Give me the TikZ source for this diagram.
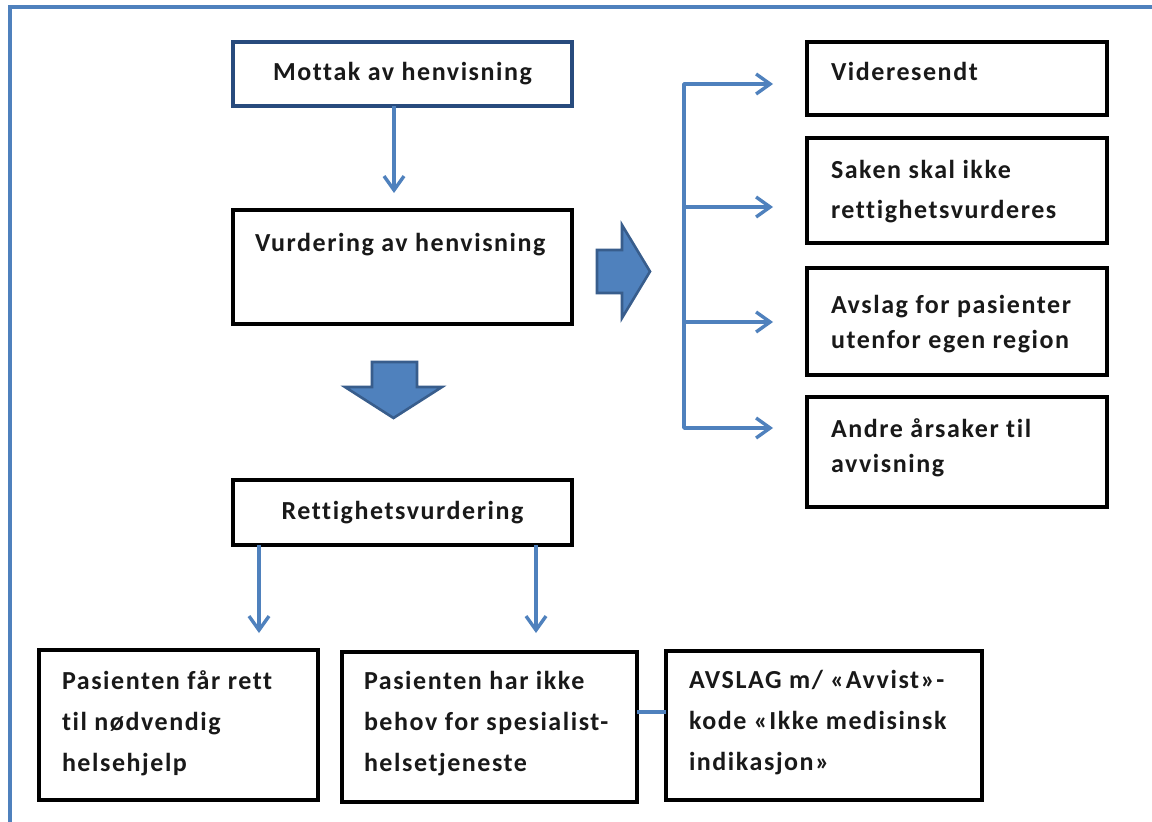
\documentclass[tikz,border=0pt]{standalone}
\usepackage{fontspec}
\setmainfont{Carlito}[LetterSpace=6,Ligatures=NoCommon]
\usetikzlibrary{arrows.meta,calc}
\definecolor{frameblue}{RGB}{79,129,189}
\definecolor{mottakblue}{RGB}{40,75,125}
\definecolor{blockfill}{RGB}{79,129,189}
\definecolor{blockedge}{RGB}{56,93,140}
\definecolor{txtcol}{RGB}{25,25,25}
\begin{document}
\begin{tikzpicture}[x=1pt,y=-1pt,
  box/.style={draw=black, line width=3.4pt, inner sep=0pt, outer sep=0pt, anchor=north west, rectangle},
  txt/.style={inner sep=0pt, outer sep=0pt, anchor=north west, align=left, text=txtcol},
  conn/.style={draw=frameblue, line width=3.4pt, line join=round},
  arr/.style={conn, -{Straight Barb[length=14pt,width=20pt,line width=3.4pt]}},
  blockarrow/.style={fill=blockfill, draw=blockedge, line width=2.6pt, line join=miter}
]
\useasboundingbox (0,0) rectangle (1152,822);
\fill[white] (0,0) rectangle (1152,822);
% frame
\draw[frameblue, line width=3.8pt] (10,830) -- (10,7) -- (1160,7);

% left column
\node[box, draw=mottakblue, minimum width=339pt, minimum height=64pt, font=\bfseries\fontsize{26}{37}\selectfont, text=txtcol] (mottak) at (233,42) {Mottak av henvisning};
\node[box, minimum width=339pt, minimum height=114pt] (vurd) at (233,210) {};
\node[txt, font=\bfseries\fontsize{26}{37}\selectfont] (vurdt) at (255,{251-0.7*37}) {\strut Vurdering av henvisning};
\node[box, minimum width=339pt, minimum height=65pt, font=\bfseries\fontsize{26}{37}\selectfont, text=txtcol] (rett) at (233,480) {Rettighetsvurdering};

% right column
\node[box, minimum width=300pt, minimum height=73pt] (vid) at (807,42) {};
\node[txt, font=\bfseries\fontsize{26}{37}\selectfont] (vidt) at (831,{80-0.7*37}) {\strut Videresendt};
\node[box, minimum width=300pt, minimum height=105pt] (saken) at (807,138) {};
\node[txt, font=\bfseries\fontsize{26}{40}\selectfont] (sakent) at (831,{178-0.7*40}) {\strut Saken skal ikke\\\strut rettighetsvurderes};
\node[box, minimum width=300pt, minimum height=107pt] (avslag) at (807,268) {};
\node[txt, font=\bfseries\fontsize{26}{35}\selectfont] (avslagt) at (831,{313-0.7*35}) {\strut Avslag for pasienter\\\strut utenfor egen region};
\node[box, minimum width=300pt, minimum height=110pt] (andre) at (807,397) {};
\node[txt, font=\bfseries\fontsize{26}{35}\selectfont] (andret) at (831,{437-0.7*35}) {\strut Andre årsaker til\\\strut avvisning};

% bottom row
\node[box, minimum width=279pt, minimum height=150pt] (pas1) at (39,650) {};
\node[txt, font=\bfseries\fontsize{26}{41}\selectfont] (pas1t) at (62,{689-0.7*41}) {\strut Pasienten får rett\\\strut til nødvendig\\\strut helsehjelp};
\node[box, minimum width=295pt, minimum height=150pt] (pas2) at (342,652) {};
\node[txt, font=\bfseries\fontsize{26}{41}\selectfont] (pas2t) at (364,{689-0.7*41}) {\strut Pasienten har ikke\\\strut behov for spesialist-\\\strut helsetjeneste};
\node[box, minimum width=316pt, minimum height=149pt] (avsl) at (666,651) {};
\node[txt, font=\bfseries\fontsize{26}{41}\selectfont] (avslt) at (689,{688-0.7*41}) {\strut AVSLAG m/ «Avvist»-\\\strut kode «Ikke medisinsk\\\strut indikasjon»};

% connectors
\coordinate (m1) at (394,0);
\draw[arr, shorten >=17pt] (mottak.south -| m1) -- (vurd.north -| m1);
\coordinate (r1) at (259,0);
\coordinate (r2) at (536,0);
\draw[arr, shorten >=17pt] (rett.south -| r1) -- (pas1.north -| r1);
\draw[arr, shorten >=19pt] (rett.south -| r2) -- (pas2.north -| r2);
\coordinate (c712) at (0,712);
\draw[conn] (pas2.east |- c712) -- (avsl.west |- c712);

% fork
\coordinate (f1) at (684,84);
\coordinate (f2) at (684,207);
\coordinate (f3) at (684,322);
\coordinate (f4) at (684,428);
\draw[arr, shorten >=34pt] (f4) -- (f1) -- (f1 -| vid.west);
\draw[arr, shorten >=34pt] (f1) -- (f4) -- (f4 -| andre.west);
\draw[arr, shorten >=34pt] (f2) -- (f2 -| saken.west);
\draw[arr, shorten >=34pt] (f3) -- (f3 -| avslag.west);

% block arrows
\draw[blockarrow] (597,250) -- (622,250) -- (622,225) -- (650,271.5) -- (622,318) -- (622,293) -- (597,293) -- cycle;
\draw[blockarrow] (372,362) -- (417,362) -- (417,387) -- (442,387) -- (393.5,418) -- (345,387) -- (372,387) -- cycle;
\end{tikzpicture}
\end{document}
